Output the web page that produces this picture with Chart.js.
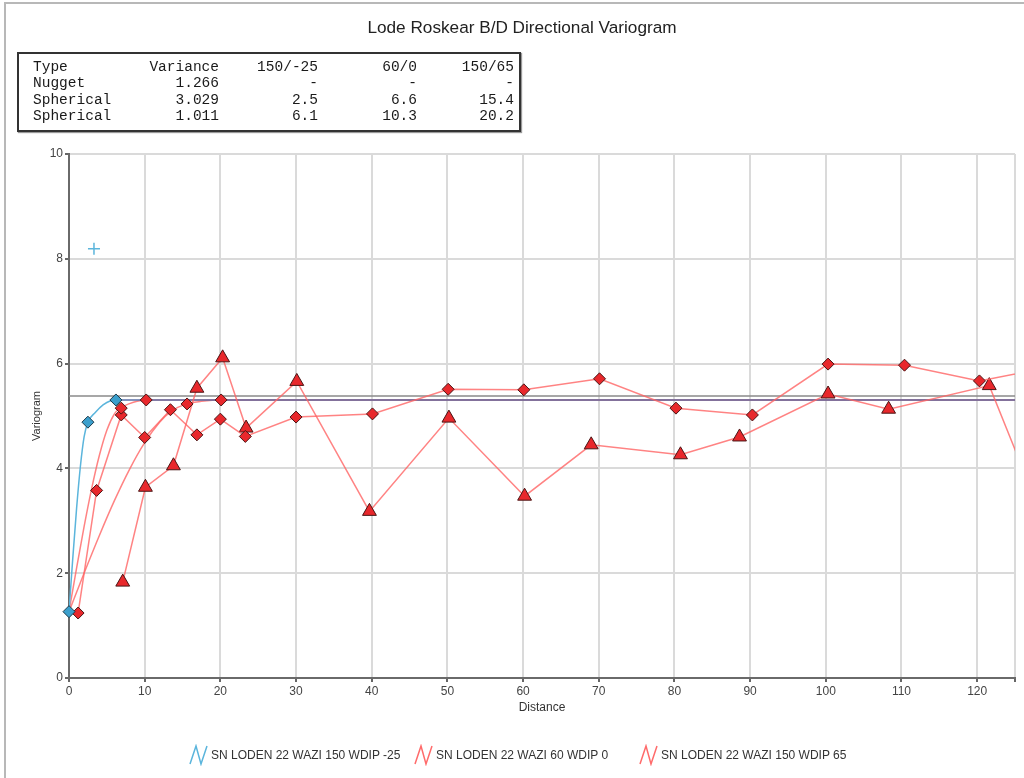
<!DOCTYPE html>
<html>
<head>
<meta charset="utf-8">
<script src="https://cdn.jsdelivr.net/npm/chart.js@4.4.0/dist/chart.umd.min.js"></script>
<style>
  body { margin: 0; background: #fff; }
  #wrap { position: relative; width: 1024px; height: 778px; overflow: hidden; font-family: "Liberation Sans", Arial, sans-serif; }
  #frame { position: absolute; left: 4px; top: 2px; width: 1030px; height: 800px; border-left: 2px solid #b8b8b8; border-top: 2px solid #b8b8b8; }
  #title { position: absolute; top: 17px; left: 522px; transform: translateX(-50%); font-size: 17.2px; color: #222; white-space: nowrap; }
  #tbl { position: absolute; left: 17px; top: 52px; width: 500px; height: 76px; border: 2px solid #333; box-shadow: 1px 1px 1px #999; font-family: "Liberation Mono", "Courier New", monospace; font-size: 14.5px; color: #1a1a1a; }
  #tbl span { position: absolute; white-space: pre; line-height: 16px; }
  #c { position: absolute; left: 0; top: 0; }
  .leg { position: absolute; top: 744px; height: 22px; white-space: nowrap; font-size: 12px; color: #333; }
  .leg svg { position: absolute; left: 0; top: 0; }
  .leg span { position: absolute; top: 4px; }
</style>
</head>
<body>
<div id="wrap">
  <div id="frame"></div>
  <canvas id="c" width="1024" height="778"></canvas>
  <div id="title">Lode Roskear B/D Directional Variogram</div>
  <div id="tbl"></div>
  <div id="legend"></div>
</div>
<script>
// model table
const tableHeader = ['Type', 'Variance', '150/-25', '60/0', '150/65'];
const tableRows = [
    ['Nugget', '1.266', '-', '-', '-'],
    ['Spherical', '3.029', '2.5', '6.6', '15.4'],
    ['Spherical', '1.011', '6.1', '10.3', '20.2']
];

// experimental variogram, diamonds
const diamondLag = [1.2, 3.65, 6.9, 10.0, 13.4, 16.9, 20.0, 23.3, 30.0, 40.1, 50.1, 60.1, 70.1, 80.2, 90.3, 100.3, 110.4, 120.3, 130];
const diamondVar = [1.24, 3.58, 5.02, 4.59, 5.12, 4.64, 4.94, 4.61, 4.98, 5.04, 5.51, 5.50, 5.71, 5.15, 5.02, 5.99, 5.97, 5.67, 5.94];

// experimental variogram, triangles
const triangleLag = [7.1, 10.1, 13.8, 16.9, 20.3, 23.4, 30.1, 39.7, 50.2, 60.2, 69.0, 80.8, 88.6, 100.3, 108.3, 121.6, 130];
const triangleVar = [1.83, 3.64, 4.05, 5.53, 6.11, 4.77, 5.66, 3.18, 4.96, 3.47, 4.45, 4.26, 4.60, 5.42, 5.13, 5.58, 2.57];

// single blue point (+)
const crossLag = [3.3];
const crossVar = [8.19];

// model curves
const blueModelLag = [0, 0.5, 1, 1.5, 2, 2.5, 3.5, 4.5, 5.5, 6.1, 125];
const blueModelVar = [1.266, 2.287, 3.232, 4.031, 4.605, 4.882, 5.070, 5.211, 5.292, 5.306, 5.306];
const red60ModelLag = [0, 1, 2, 3, 4, 5, 6, 6.6, 8, 9, 10.3, 125];
const red60ModelVar = [1.266, 2.096, 2.892, 3.618, 4.241, 4.728, 5.041, 5.134, 5.236, 5.283, 5.306, 5.306];
const red150ModelLag = [0, 2, 4, 6, 8, 10, 12, 13.4, 15.4, 17.5, 20.2, 125];
const red150ModelVar = [1.266, 2.003, 2.715, 3.384, 3.983, 4.491, 4.885, 5.080, 5.227, 5.280, 5.306, 5.306];

// markers at model ranges
const blueMarkLag = [0, 2.5, 6.2];
const blueMarkVar = [1.266, 4.882, 5.306];
const redMarkLag = [6.9, 10.2, 15.6, 20.1];
const redMarkVar = [5.15, 5.306, 5.23, 5.306];

// sample variance line
const sillLag = [0, 125];
const sillVar = [5.38, 5.38];

const xTicks = [0, 10, 20, 30, 40, 50, 60, 70, 80, 90, 100, 110, 120];

const legendLabels = ['SN LODEN 22 WAZI 150 WDIP -25', 'SN LODEN 22 WAZI 60 WDIP 0', 'SN LODEN 22 WAZI 150 WDIP 65'];
const legendColors = ['#5bb5dc', '#ff6b6b', '#ff6b6b'];
const legendLeft = [188, 413, 638];

const BLUE = '#5bb5dc';
const BLUE_FLAT = '#5a6ea6';
const RED_LINE = 'rgba(255, 100, 100, 0.8)';
const RED_FILL = '#e8282c';
const MARK_BORDER = '#4a1515';

const pts = (xs, ys) => xs.map((x, i) => ({ x: x, y: ys[i] }));

// table
const tbl = document.getElementById('tbl');
const colRight = [null, 200, 299, 398, 495];
[tableHeader].concat(tableRows).forEach((row, r) => {
    row.forEach((txt, c) => {
        const s = document.createElement('span');
        s.textContent = txt;
        s.style.top = (5 + r * 16.3) + 'px';
        if (c === 0) s.style.left = '14px';
        else s.style.right = (500 - colRight[c]) + 'px';
        tbl.appendChild(s);
    });
});

// legend
const leg = document.getElementById('legend');
legendLabels.forEach((lab, i) => {
    const d = document.createElement('div');
    d.className = 'leg';
    d.style.left = legendLeft[i] + 'px';
    d.innerHTML = '<svg width="22" height="22"><polyline points="2,20 8,2 13,20 19,2" fill="none" stroke="' +
        legendColors[i] + '" stroke-width="1.5"/></svg><span style="left:23px"></span>';
    d.querySelector('span').textContent = lab;
    leg.appendChild(d);
});

const noClipLeft = { left: 10, top: 10, right: 0, bottom: 10 };

new Chart(document.getElementById('c'), {
    type: 'scatter',
    data: {
        datasets: [
            {   // blue model markers
                data: pts(blueMarkLag, blueMarkVar),
                showLine: false, pointStyle: 'rectRot', pointRadius: 6,
                backgroundColor: '#3b9fcc', borderColor: '#1d3a4a', borderWidth: 1,
                clip: false, order: 1
            },
            {   // red model markers
                data: pts(redMarkLag, redMarkVar),
                showLine: false, pointStyle: 'rectRot', pointRadius: 6,
                backgroundColor: RED_FILL, borderColor: MARK_BORDER, borderWidth: 1,
                clip: false, order: 2
            },
            {
                data: pts(diamondLag, diamondVar),
                showLine: true, pointStyle: 'rectRot', pointRadius: 6,
                borderColor: RED_LINE, borderWidth: 1.5,
                pointBackgroundColor: RED_FILL, pointBorderColor: MARK_BORDER, pointBorderWidth: 1,
                clip: noClipLeft, order: 3
            },
            {
                data: pts(triangleLag, triangleVar),
                showLine: true, pointStyle: 'triangle', pointRadius: 8,
                borderColor: RED_LINE, borderWidth: 1.5,
                pointBackgroundColor: RED_FILL, pointBorderColor: MARK_BORDER, pointBorderWidth: 1,
                clip: noClipLeft, order: 4
            },
            {
                data: pts(crossLag, crossVar),
                showLine: false, pointStyle: 'cross', pointRadius: 6,
                borderColor: BLUE, borderWidth: 1.5, order: 5
            },
            {
                data: pts(blueModelLag, blueModelVar),
                showLine: true, pointRadius: 0, cubicInterpolationMode: 'monotone',
                borderColor: BLUE, borderWidth: 1.5, order: 6,
                segment: { borderColor: (ctx) => (ctx.p0.parsed.x >= 6 ? BLUE_FLAT : BLUE) }
            },
            {
                data: pts(red60ModelLag, red60ModelVar),
                showLine: true, pointRadius: 0, cubicInterpolationMode: 'monotone',
                borderColor: RED_LINE, borderWidth: 1.5, order: 7
            },
            {
                data: pts(red150ModelLag, red150ModelVar),
                showLine: true, pointRadius: 0, cubicInterpolationMode: 'monotone',
                borderColor: RED_LINE, borderWidth: 1.5, order: 8
            },
            {
                data: pts(sillLag, sillVar),
                showLine: true, pointRadius: 0,
                borderColor: '#8a8a8a', borderWidth: 1.5, order: 9
            }
        ]
    },
    options: {
        responsive: false,
        animation: false,
        events: [],
        layout: { padding: { left: 0, top: 154, right: 9, bottom: 60 } },
        plugins: { legend: { display: false }, tooltip: { enabled: false } },
        scales: {
            x: {
                type: 'linear', min: 0, max: 125,
                afterFit: (s) => { s.height = 40; },
                afterBuildTicks: (s) => { s.ticks = xTicks.map(v => ({ value: v })).concat([{ value: 125 }]); },
                ticks: {
                    color: '#444', font: { size: 12 }, padding: 2,
                    callback: (v) => (v === 125 ? '' : v)
                },
                grid: { color: '#dadada', lineWidth: 2, tickLength: 4, tickColor: '#666' },
                border: { color: '#6a6a6a', width: 2 },
                title: { display: true, text: 'Distance', color: '#333', font: { size: 12 }, padding: { top: 0, bottom: 3 } }
            },
            y: {
                min: 0, max: 10,
                afterFit: (s) => { s.width = 69; },
                ticks: { stepSize: 2, color: '#444', font: { size: 12 }, padding: 2 },
                grid: { color: '#dadada', lineWidth: 2, tickLength: 4, tickColor: '#666' },
                border: { color: '#6a6a6a', width: 2 },
                title: { display: true, text: 'Variogram', color: '#333', font: { size: 11 }, padding: { top: 30, bottom: 0 } }
            }
        }
    }
});
</script>
</body>
</html>
